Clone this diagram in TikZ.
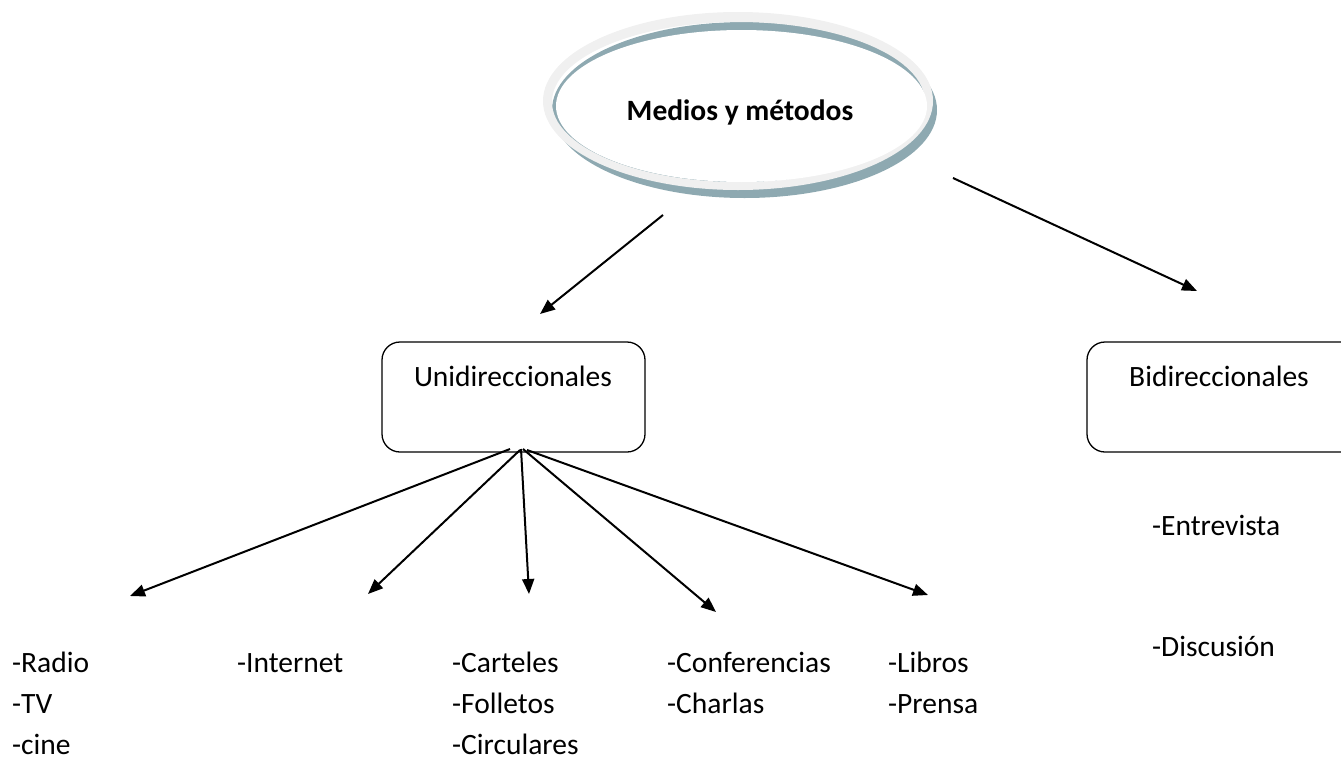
\documentclass[tikz,border=0pt]{standalone}
\usepackage{fontspec}
\setmainfont{Carlito}
\usetikzlibrary{arrows.meta}
\definecolor{ringgray}{HTML}{F0F0F0}
\definecolor{ringteal}{HTML}{8EA9B1}
\begin{document}
\begin{tikzpicture}[x=1pt,y=-1pt,
  txt/.style={font=\fontsize{29.5}{35}\selectfont, inner sep=0pt},
  lbl/.style={txt, anchor=base west},
  catbox/.style={draw, line width=1.3pt, rounded corners=18pt},
  arr/.style={line width=2pt, -{Triangle[length=15pt,width=12pt]}}]
\useasboundingbox (0,0) rectangle (1341,758);
\clip (0,0) rectangle (1341,758);
% central ellipse: teal ring under a light grey ring
\fill[ringteal] (744.5,110) ellipse [x radius=192.5, y radius=88];
\fill[ringgray, even odd rule] (738,101) ellipse [x radius=195, y radius=89]
                               (738.5,102) ellipse [x radius=186.5, y radius=80];
\fill[white] (741.5,106) ellipse [x radius=185.5, y radius=76];
\node[txt, anchor=base, font=\fontsize{29.5}{35}\selectfont\bfseries] (root) at (740,120) {Medios y métodos};
% category boxes
\draw[catbox] (382,342) rectangle (645,452);
\node[txt, anchor=base] (uni) at (513,386) {Unidireccionales};
\draw[catbox] (1087,342) rectangle (1370,452);
\node[txt, anchor=base] (bi) at (1219,386) {Bidireccionales};
% arrows from the ellipse
\coordinate (r1) at (663,215);
\coordinate (r1e) at (540,314);
\coordinate (r2) at (953,178);
\coordinate (r2e) at (1197,291);
\draw[arr] (r1) -- (r1e);
\draw[arr] (r2) -- (r2e);
% arrows from Unidireccionales
\coordinate (u1) at (510,449);
\coordinate (u2) at (520,450);
\coordinate (u3) at (521,449);
\coordinate (u4) at (523,449);
\coordinate (u5) at (527,450);
\coordinate (e1) at (130,596);
\coordinate (e2) at (368,594);
\coordinate (e3) at (529,594);
\coordinate (e4) at (716,612);
\coordinate (e5) at (928,595);
\draw[arr] (u1) -- (e1);
\draw[arr] (u2) -- (e2);
\draw[arr] (u3) -- (e3);
\draw[arr] (u4) -- (e4);
\draw[arr] (u5) -- (e5);
% lists
\node[lbl] (radio) at (12,672) {-Radio};
\node[lbl] (tv) at (12,713) {-TV};
\node[lbl] (cine) at (12,754) {-cine};
\node[lbl] (internet) at (237,672) {-Internet};
\node[lbl] (carteles) at (452,672) {-Carteles};
\node[lbl] (folletos) at (452,713) {-Folletos};
\node[lbl] (circ) at (452,754) {-Circulares};
\node[lbl] (conf) at (667,672) {-Conferencias};
\node[lbl] (charlas) at (667,713) {-Charlas};
\node[lbl] (libros) at (888,672) {-Libros};
\node[lbl] (prensa) at (888,713) {-Prensa};
\node[lbl] (entre) at (1152,535) {-Entrevista};
\node[lbl] (disc) at (1152,656) {-Discusión};
\end{tikzpicture}
\end{document}
